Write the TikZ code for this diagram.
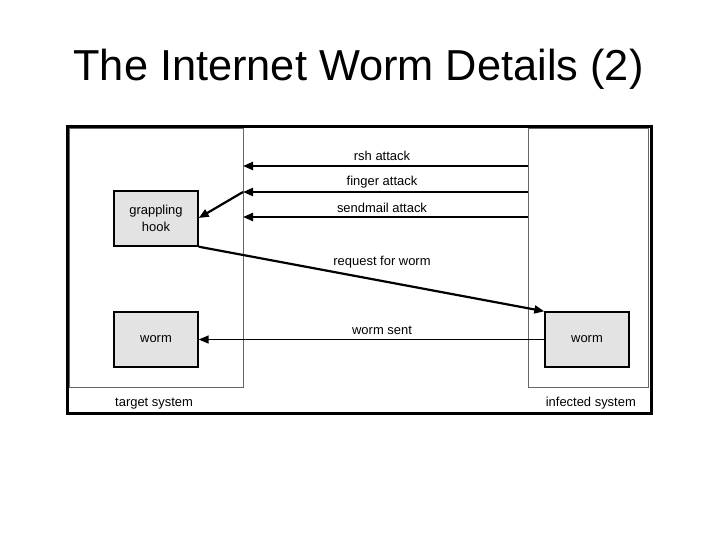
\documentclass[tikz,border=0pt]{standalone}
\usepackage{fontspec}
\setmainfont{Liberation Sans}
\usetikzlibrary{arrows.meta}
\begin{document}
\begin{tikzpicture}[x=1bp,y=-1bp,
  lbl/.style={font=\fontsize{13}{15}\selectfont, inner sep=0pt},
  proc/.style={draw=black, line width=1.4bp, fill=gray!22, minimum width=84bp, minimum height=55bp, inner sep=0pt, align=center, font=\fontsize{13}{17.5}\selectfont},
  sysbox/.style={draw=gray!80!black, line width=0.9bp},
  atk/.style={line width=2.2bp, -{Triangle[length=10bp,width=8bp]}},
  msg/.style={line width=1.5bp, -{Triangle[length=10bp,width=8bp]}}]
\useasboundingbox (0,0) rectangle (720,540);
\node[font=\fontsize{43.5}{50}\selectfont, inner sep=0pt] (title) at (358.5,69) {The Internet Worm Details (2)};
% systems
\draw[sysbox] (69,128) rectangle (243,387);
\draw[sysbox] (528,128) rectangle (648,387);
\draw[line width=3bp] (67,127) rectangle (651,413);
\node[lbl, anchor=west] (tsys) at (115,403.5) {target system};
\node[lbl, anchor=east] (isys) at (636,403.5) {infected system};
% boxes
\node[proc] (hook) at (156,218.5) {\raisebox{-1bp}{grappling}\\\raisebox{-1bp}{hook}};
\node[proc] (wl) at (156,339.5) {\raisebox{-2bp}{worm}};
\node[proc] (wr) at (587,339.5) {\raisebox{-2bp}{worm}};
% attack arrows
\coordinate (r1) at (528,166); \coordinate (l1) at (243,166);
\coordinate (r2) at (528,192); \coordinate (l2) at (243,192);
\coordinate (r3) at (528,217); \coordinate (l3) at (243,217);
\draw[atk] (r1) -- (l1);
\draw[atk] (r2) -- (l2);
\draw[atk] (r3) -- (l3);
\draw[atk] (l2) -- (hook.east |- 0,218);
\node[lbl] (t1) at (382,156) {rsh attack};
\node[lbl] (t2) at (382,182) {finger attack};
\node[lbl] (t3) at (382,208) {sendmail attack};
% request
\draw[atk] (hook.south east) -- (wr.north west);
\node[lbl] (t4) at (382,262) {request for worm};
% worm sent
\draw[msg] (wr.west) -- (wl.east);
\node[lbl] (t5) at (382,330) {worm sent};
\end{tikzpicture}
\end{document}
